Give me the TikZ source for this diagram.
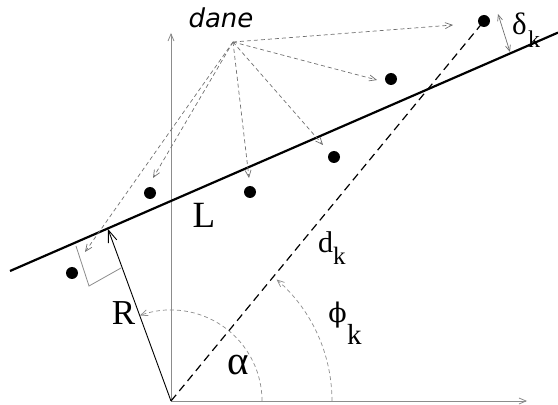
\documentclass[tikz,border=0pt]{standalone}
\usepackage{fontspec}
\setmainfont{Liberation Serif}
\newfontfamily\danefont{DejaVu Sans}
\newfontfamily\phifont{DejaVu Serif}
\usetikzlibrary{arrows.meta}
\definecolor{axisgray}{HTML}{8C8C8C}
\definecolor{dgray}{HTML}{707070}
\tikzset{
  axis/.style={axisgray, line width=0.8pt, -{Straight Barb[length=7pt,width=6pt]}},
  dataarrow/.style={dgray, line width=0.7pt, dash pattern=on 4pt off 3pt, -{Straight Barb[length=7pt,width=6pt]}},
  anglearc/.style={axisgray, line width=0.7pt, dash pattern=on 4pt off 3pt, -{Straight Barb[length=7pt,width=6pt]}},
  pt/.style={circle, fill=black, inner sep=0pt, minimum size=12pt},
  lbl/.style={inner sep=0pt, anchor=base},
  lblw/.style={inner sep=0pt, anchor=base west}
}
\begin{document}
\begin{tikzpicture}[x=1pt,y=1pt]
\useasboundingbox (0,0) rectangle (558,405);
% axes
\coordinate (O) at (171,4);
\coordinate (Ytop) at (171,372);
\coordinate (Xend) at (527,4);
\draw[axis] (O) -- (Ytop);
\draw[axis] (O) -- (Xend);
% line L
\coordinate (L1) at (10,134);
\coordinate (L2) at (558,372.4);
% right angle marker
\coordinate (A) at (76,159);
\coordinate (B) at (89,119);
\coordinate (C) at (121,137);
\draw[axisgray, line width=0.8pt] (A) -- (B) -- (C);
\draw[black, line width=2.2pt] (L1) -- (L2);
% R
\coordinate (F) at (108,176);
\draw[black, line width=0.9pt, -{Straight Barb[length=12pt,width=9pt]}] (O) -- (F);
% data points
\node[pt] (p1) at (72,132) {};
\node[pt] (p2) at (150,212) {};
\node[pt] (p3) at (250,213) {};
\node[pt] (p4) at (334,248) {};
\node[pt] (p5) at (391,326) {};
\node[pt] (p6) at (484,384) {};
% d_k
\draw[black, line width=1.2pt, dash pattern=on 8pt off 5pt] (O) -- (p6.center);
% dane arrows
\coordinate (S) at (233,363);
\coordinate (e1) at (85,153);
\coordinate (e2) at (153,227);
\coordinate (e3) at (249,227);
\coordinate (e4) at (323,260);
\coordinate (e5) at (377,325);
\coordinate (e6) at (453,380);
\foreach \e in {e1,e2,e3,e4,e5,e6} \draw[dataarrow] (S) -- (\e);
% delta arrow
\coordinate (D1) at (498,391);
\coordinate (D2) at (510,353);
\draw[dgray, line width=0.7pt, {Straight Barb[length=6pt,width=5pt]}-{Straight Barb[length=6pt,width=5pt]}] (D1) -- (D2);
% angle arcs
\draw[anglearc] ([shift={(0:91)}]O) arc[start angle=0, end angle=110, radius=91];
\draw[anglearc] ([shift={(0:161)}]O) arc[start angle=0, end angle=49, radius=161];
% labels
\node[lbl] (dane) at (221,377) {\danefont\itshape\fontsize{26}{26}\selectfont dane};
\node[lbl] (Llab) at (204,177) {\fontsize{37}{37}\selectfont L};
\node[lbl] (Rlab) at (123.5,80) {\fontsize{35}{35}\selectfont R};
\node[lbl] (alab) at (238,30) {\fontsize{41}{41}\selectfont α};
\node[lblw] (dlab) at (318,152) {\fontsize{30}{30}\selectfont d};
\node[lblw] (dk) at (333,140) {\fontsize{25}{25}\selectfont k};
\node[lbl] (philab) at (337.5,82) {\phifont\fontsize{27}{27}\selectfont ϕ};
\node[lblw] (phik) at (347,60) {\fontsize{29}{29}\selectfont k};
\node[lblw] (dellab) at (512,370) {\fontsize{31}{31}\selectfont δ};
\node[lblw] (delk) at (528,357) {\fontsize{24}{24}\selectfont k};
\end{tikzpicture}
\end{document}
